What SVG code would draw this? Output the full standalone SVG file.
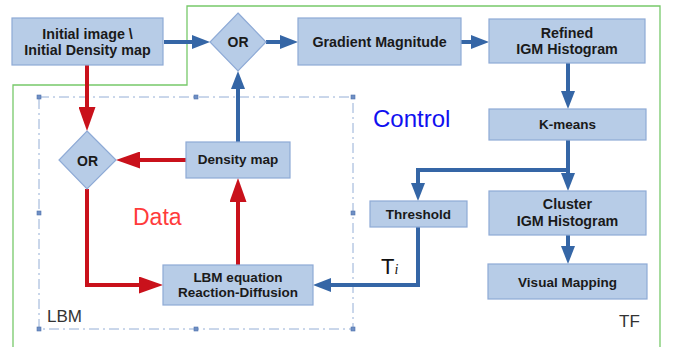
<svg xmlns="http://www.w3.org/2000/svg" width="678" height="347" viewBox="0 0 678 347">
<style>
.box{fill:#b7cce7;stroke:#8eaad6;stroke-width:1.2}
.t{font-family:"Liberation Sans",Arial,sans-serif;font-weight:bold;fill:#1a1a1a;text-anchor:middle}
.big{font-size:14.3px}
.sm{font-size:13.5px}
.blue{fill:none;stroke:#3566a6;stroke-width:4}
.red{fill:none;stroke:#c9111b;stroke-width:4}
.lbl{font-family:"Liberation Sans",Arial,sans-serif}
.h{fill:#6f8fc4;stroke:#4f73ad;stroke-width:0.6}
</style>
<defs>
<marker id="ab" markerUnits="userSpaceOnUse" markerWidth="18" markerHeight="14" refX="0" refY="7" orient="auto" viewBox="0 0 18 14"><path d="M0,0 L18,7 L0,14 z" fill="#3566a6"/></marker>
<marker id="ar" markerUnits="userSpaceOnUse" markerWidth="24" markerHeight="17" refX="0" refY="8.5" orient="auto" viewBox="0 0 24 17"><path d="M0,0 L24,8.5 L0,17 z" fill="#c9111b"/></marker>
</defs>
<g id="frames">
<path d="M13,347 V85 H187 V6 H660 V347" fill="none" stroke="#77c96a" stroke-width="1.3"/>
<rect x="39" y="97" width="314" height="232" fill="none" stroke="#94aed6" stroke-width="1" stroke-dasharray="10,4,2,4"/>
<rect class="h" x="37" y="95" width="4" height="4"/><rect class="h" x="194" y="95" width="4" height="4"/><rect class="h" x="351" y="95" width="4" height="4"/>
<rect class="h" x="37" y="211" width="4" height="4"/><rect class="h" x="351" y="211" width="4" height="4"/>
<rect class="h" x="37" y="327" width="4" height="4"/><rect class="h" x="194" y="327" width="4" height="4"/><rect class="h" x="351" y="327" width="4" height="4"/>
<text class="lbl" x="47" y="322" font-size="17" fill="#333">LBM</text>
<text class="lbl" x="619" y="327" font-size="17" fill="#333">TF</text>
<text class="lbl" x="133" y="225" font-size="23" fill="#ff3b3b">Data</text>
<text class="lbl" x="373" y="127" font-size="24" fill="#1010f0">Control</text>
<text class="lbl" x="381" y="274" font-size="22" fill="#111">T<tspan font-family="'Liberation Serif',serif" font-style="italic" font-size="14">i</tspan></text>
</g>
<g id="connectors">
<path class="blue" d="M164,42 H192" marker-end="url(#ab)"/>
<path class="blue" d="M266,42 H280" marker-end="url(#ab)"/>
<path class="blue" d="M461,42 H471" marker-end="url(#ab)"/>
<path class="blue" d="M568,63 V91" marker-end="url(#ab)"/>
<path class="blue" d="M568,140 V173" marker-end="url(#ab)"/>
<path class="blue" d="M568,170 H418 V183" marker-end="url(#ab)"/>
<path class="blue" d="M568,235 V246" marker-end="url(#ab)"/>
<path class="blue" d="M418,227 V285 H331" marker-end="url(#ab)"/>
<path class="blue" d="M238,142 V89" marker-end="url(#ab)"/>
<path class="red" d="M87,65 V107" marker-end="url(#ar)"/>
<path class="red" d="M186,160 H140" marker-end="url(#ar)"/>
<path class="red" d="M87,189 V285 H139" marker-end="url(#ar)"/>
<path class="red" d="M238,265 V202" marker-end="url(#ar)"/>
</g>
<g id="initial"><rect class="box" x="12" y="18" width="151" height="47"/><text class="t big" x="87.5" y="39">Initial image \</text><text class="t big" x="87.5" y="55">Initial Density map</text></g>
<g id="or1"><path class="box" d="M238,13 L266,42 L238,71 L210,42 z"/><text class="t" font-size="14" x="238" y="47">OR</text></g>
<g id="gradient"><rect class="box" x="298" y="18" width="163" height="47"/><text class="t big" x="379.5" y="47">Gradient Magnitude</text></g>
<g id="refined"><rect class="box" x="489" y="19" width="156" height="44"/><text class="t big" x="567" y="38">Refined</text><text class="t big" x="567" y="54">IGM Histogram</text></g>
<g id="kmeans"><rect class="box" x="489" y="109" width="157" height="31"/><text class="t sm" x="567.5" y="129">K-means</text></g>
<g id="threshold"><rect class="box" x="370" y="201" width="97" height="26"/><text class="t sm" x="418.5" y="219">Threshold</text></g>
<g id="cluster"><rect class="box" x="489" y="191" width="157" height="44"/><text class="t big" x="567.5" y="209">Cluster</text><text class="t big" x="567.5" y="226">IGM Histogram</text></g>
<g id="visual"><rect class="box" x="488" y="264" width="159" height="35"/><text class="t sm" x="567.5" y="287">Visual Mapping</text></g>
<g id="or2"><path class="box" d="M87,131 L116,160 L87,189 L59,160 z"/><text class="t" font-size="14" x="87.5" y="166">OR</text></g>
<g id="density"><rect class="box" x="186" y="142" width="104" height="36"/><text class="t sm" x="238" y="164">Density map</text></g>
<g id="lbm"><rect class="box" x="163" y="265" width="150" height="40"/><text class="t sm" x="238" y="282">LBM equation</text><text class="t sm" x="238" y="297">Reaction-Diffusion</text></g>
</svg>
